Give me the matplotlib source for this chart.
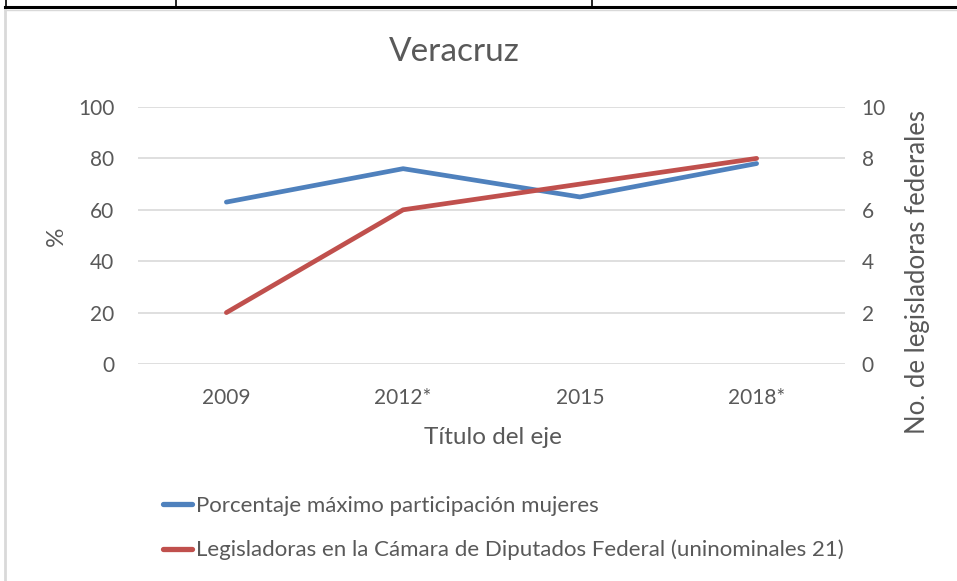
import matplotlib.pyplot as plt
from matplotlib.lines import Line2D

plt.rcParams["font.family"] = ["Lato", "DejaVu Sans"]

# Series data
years = ["2009", "2012*", "2015", "2018*"]
pct_max = [63, 76, 65, 78]
legisladoras = [2, 6, 7, 8]

label_pct = "Porcentaje máximo participación mujeres"
label_leg = "Legisladoras en la Cámara de Diputados Federal (uninominales 21)"

blue = "#4F81BD"
red = "#C0504D"
text_col = "#595959"
grid_col = "#D9D9D9"

W, H = 957, 581
fig = plt.figure(figsize=(W / 100, H / 100), dpi=100)


def fx(px):
    return px / W


def fy(py):
    return 1 - py / H


# table frame above the chart
fig.add_artist(Line2D([fx(5), 1], [fy(7), fy(7)], color="black", lw=2.2))
for x in (6, 176, 592):
    fig.add_artist(Line2D([fx(x), fx(x)], [1, fy(7)], color="black", lw=1.2))
fig.add_artist(Line2D([fx(5), 1], [fy(10), fy(10)], color="#D9D9D9", lw=1))
fig.add_artist(Line2D([fx(5), fx(5)], [fy(10), 0], color="#D9D9D9", lw=2))

ax = fig.add_axes([fx(138), fy(364), fx(845) - fx(138), fy(107) - fy(364)])
ax2 = ax.twinx()

x = range(len(years))
ax.plot(x, pct_max, color=blue, lw=3.4, solid_capstyle="round", label=label_pct)
ax2.plot(x, legisladoras, color=red, lw=3.4, solid_capstyle="round", label=label_leg)

ax.set_xlim(-0.5, len(years) - 0.5)
ax.set_ylim(0, 100)
ax2.set_ylim(0, 10)
ax.set_yticks(range(0, 101, 20))
ax2.set_yticks(range(0, 11, 2))
ax.set_xticks(list(x))
ax.set_xticklabels(years)

ax.grid(axis="y", color=grid_col, lw=1.2)
ax.set_axisbelow(True)
for a in (ax, ax2):
    for s in a.spines.values():
        s.set_visible(False)
    a.tick_params(length=0, labelsize=15, colors=text_col)
ax.tick_params(axis="y", pad=17)
ax2.tick_params(axis="y", pad=12)
ax.tick_params(axis="x", pad=17)

# axis titles
fig.text(fx(56), fy(236), "%", fontsize=17.5, color=text_col,
         rotation=90, ha="center", va="center")
fig.text(fx(918), fy(272), "No. de legisladoras federales", fontsize=18.5,
         color=text_col, rotation=90, ha="center", va="center")
fig.text(fx(493), fy(437), "Título del eje", fontsize=17.5, color=text_col,
         ha="center", va="center")

fig.text(fx(454), fy(52), "Veracruz", fontsize=24, color=text_col,
         ha="center", va="center")

handles = [Line2D([], [], color=blue, lw=3.8, solid_capstyle="round"),
           Line2D([], [], color=red, lw=3.8, solid_capstyle="round")]
leg = fig.legend(handles, [label_pct, label_leg], loc="upper left",
                 bbox_to_anchor=(fx(154), fy(487)), frameon=False,
                 fontsize=16, handlelength=1.3, handletextpad=0.2,
                 labelspacing=1.08, borderaxespad=0)
for t in leg.get_texts():
    t.set_color(text_col)

fig.savefig("out.png", dpi=100)
